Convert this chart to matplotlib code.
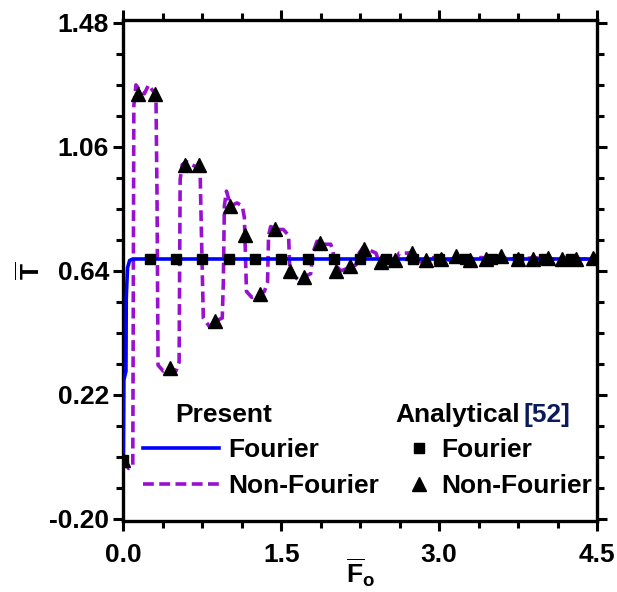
"""Temperature history: present solution vs analytical reference."""

import matplotlib
matplotlib.use("Agg")
import matplotlib.pyplot as plt
from matplotlib.lines import Line2D
from matplotlib.ticker import FixedLocator, MultipleLocator, FormatStrFormatter

# Present, Fourier model
fourier_fo = [0.0, 0.005, 0.025, 0.028, 0.04, 0.06, 0.09, 4.5]
fourier_t = [0.0, 0.27, 0.30, 0.55, 0.65, 0.675, 0.68, 0.68]

# Present, non-Fourier model
nonfourier_fo = [
    0.00, 0.05, 0.09, 0.10, 0.12, 0.16, 0.20, 0.24, 0.28, 0.31,
    0.32, 0.33, 0.38, 0.44, 0.50, 0.53, 0.54, 0.56, 0.60, 0.65,
    0.70, 0.73, 0.74, 0.76, 0.82, 0.88, 0.94, 0.95, 0.96, 0.98,
    1.02, 1.08, 1.13, 1.15, 1.17, 1.22, 1.28, 1.34, 1.37, 1.38,
    1.40, 1.46, 1.52, 1.57, 1.58, 1.60, 1.66, 1.72, 1.78, 1.80,
    1.84, 1.90, 1.97, 1.99, 2.01, 2.07, 2.14, 2.21, 2.24, 2.28,
    2.34, 2.40, 2.43, 2.47, 2.53, 2.59, 2.62, 2.68, 2.74, 2.79,
    2.82, 2.90, 3.00, 3.10, 3.20, 3.30, 3.40, 3.50, 3.60, 3.70,
    3.80, 3.90, 4.00, 4.10, 4.20, 4.30, 4.40, 4.50,
]
nonfourier_t = [
    0.00, -0.03, -0.02, 1.20, 1.27, 1.25, 1.24, 1.27, 1.25, 1.24,
    0.90, 0.32, 0.30, 0.31, 0.30, 0.33, 0.95, 1.00, 1.01, 1.00,
    0.99, 0.97, 0.80, 0.48, 0.45, 0.47, 0.48, 0.60, 0.86, 0.91,
    0.86, 0.87, 0.86, 0.82, 0.57, 0.55, 0.56, 0.57, 0.60, 0.76,
    0.79, 0.78, 0.78, 0.76, 0.66, 0.63, 0.61, 0.62, 0.63, 0.70,
    0.74, 0.73, 0.73, 0.71, 0.66, 0.64, 0.65, 0.66, 0.70, 0.72,
    0.71, 0.70, 0.67, 0.66, 0.67, 0.67, 0.70, 0.70, 0.70, 0.69,
    0.67, 0.68, 0.69, 0.675, 0.685, 0.68, 0.685, 0.68, 0.685, 0.68,
    0.68, 0.685, 0.68, 0.68, 0.685, 0.68, 0.68, 0.68,
]

# Analytical [52], Fourier
ana_fourier_fo = [0.0, 0.25, 0.50, 0.75, 1.00, 1.25, 1.50, 1.75, 2.00, 2.25,
                  2.50, 2.75, 3.00, 3.25, 3.50, 3.75, 4.00, 4.25, 4.50]
ana_fourier_t = [0.0] + [0.68] * 18

# Analytical [52], non-Fourier
ana_nonfourier_fo = [0.00, 0.14, 0.30, 0.44, 0.59, 0.72, 0.87, 1.01, 1.16, 1.30,
                     1.44, 1.58, 1.72, 1.87, 2.02, 2.15, 2.29, 2.45, 2.58, 2.74,
                     2.88, 3.02, 3.16, 3.29, 3.45, 3.59, 3.75, 3.89, 4.03, 4.17,
                     4.30, 4.46]
ana_nonfourier_t = [0.00, 1.24, 1.24, 0.31, 1.00, 1.00, 0.47, 0.86, 0.76, 0.56,
                    0.78, 0.64, 0.62, 0.735, 0.64, 0.655, 0.715, 0.67, 0.675, 0.70,
                    0.675, 0.68, 0.69, 0.675, 0.68, 0.69, 0.68, 0.68, 0.685, 0.68,
                    0.68, 0.685]

y_ticks = [-0.20, 0.22, 0.64, 1.06, 1.48]
x_ticks = [0.0, 1.5, 3.0, 4.5]

BLUE = "#0000FF"
PURPLE = "#9A10D0"

plt.rcParams.update({
    "font.family": "Liberation Sans",
    "font.weight": "bold",
    "font.size": 19,
    "axes.unicode_minus": False,
    "mathtext.fontset": "custom",
    "mathtext.rm": "Liberation Sans:bold",
    "mathtext.bf": "Liberation Sans:bold",
    "mathtext.it": "Liberation Sans:bold",
})

fig = plt.figure(figsize=(6.17, 5.92), dpi=100)
ax = fig.add_axes([123 / 617, 1 - 521 / 592, 474 / 617, 501 / 592])

ax.plot(nonfourier_fo, nonfourier_t, color=PURPLE, lw=2.6, ls=(0, (3.0, 1.5)), zorder=2)
ax.plot(fourier_fo, fourier_t, color=BLUE, lw=2.6, zorder=3)
ax.plot(ana_fourier_fo, ana_fourier_t, ls="none", marker="s", ms=7.5, color="black", zorder=4)
ax.plot(ana_nonfourier_fo, ana_nonfourier_t, ls="none", marker="^", ms=10, color="black", zorder=5)

ax.set_xlim(-0.003, 4.5)
ax.set_ylim(-0.208, 1.49)
ax.xaxis.set_major_locator(FixedLocator(x_ticks))
ax.yaxis.set_major_locator(FixedLocator(y_ticks))
ax.xaxis.set_minor_locator(MultipleLocator(0.375))
ax.yaxis.set_minor_locator(FixedLocator([-0.20 + 0.105 * i for i in range(17)]))
ax.xaxis.set_major_formatter(FormatStrFormatter("%.1f"))
ax.yaxis.set_major_formatter(FormatStrFormatter("%.2f"))

for s in ax.spines.values():
    s.set_linewidth(2.4)
ax.tick_params(which="both", direction="out", top=True, right=True, width=2.2)
ax.tick_params(which="major", length=7)
ax.tick_params(which="minor", length=5)
ax.tick_params(axis="x", which="major", pad=9)
ax.tick_params(axis="y", which="major", pad=3)

ax.set_xlabel(r"$\overline{\mathrm{F}}_\mathrm{o}$", labelpad=-8)
ax.set_ylabel(r"$\overline{\mathrm{T}}$", labelpad=3)

# legend blocks
present = ax.legend(
    [Line2D([], [], color=BLUE, lw=2.6),
     Line2D([], [], color=PURPLE, lw=2.6, ls=(0, (3.0, 1.5)))],
    ["Fourier", "Non-Fourier"],
    loc="center left", bbox_to_anchor=(0.042, 0.105), frameon=False,
    borderpad=0, borderaxespad=0, handlelength=2.9, handletextpad=0.35,
    labelspacing=0.45,
)
ax.add_artist(present)
ax.legend(
    [Line2D([], [], ls="none", marker="s", ms=7.5, color="black"),
     Line2D([], [], ls="none", marker="^", ms=10, color="black")],
    ["Fourier", "Non-Fourier"],
    loc="center left", bbox_to_anchor=(0.596, 0.105), frameon=False,
    borderpad=0, borderaxespad=0, handlelength=1.0, handletextpad=0.35,
    labelspacing=0.45,
)

ax.text(0.213, 0.212, "Present", transform=ax.transAxes, ha="center", va="center")
title = ax.text(0.574, 0.212, "Analytical", transform=ax.transAxes, ha="left", va="center")
ax.annotate("[52]", xy=(1, 0), xycoords=title, xytext=(3, 0), textcoords="offset points",
            ha="left", va="bottom", color="#0B1A5A")

fig.savefig("out.png", dpi=100)
